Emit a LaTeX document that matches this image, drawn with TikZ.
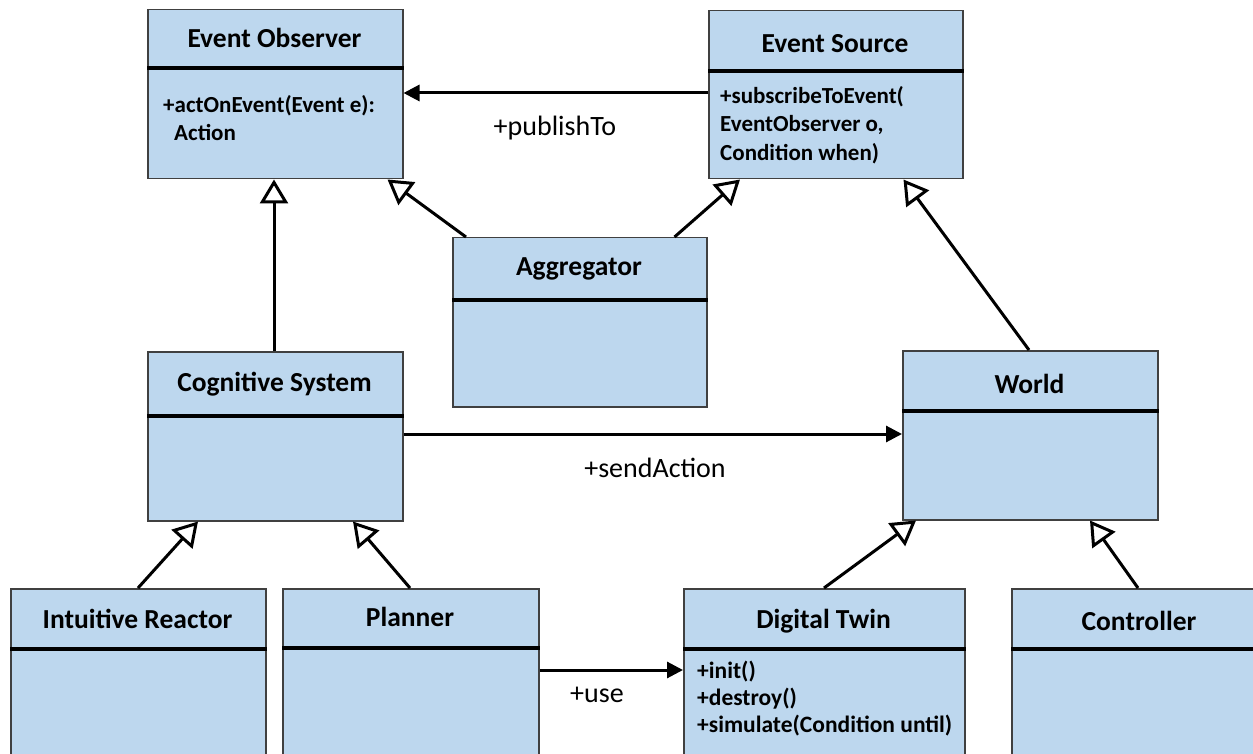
\documentclass[tikz,border=0pt]{standalone}
\usepackage{fontspec}
\setmainfont{Carlito}
\usetikzlibrary{arrows.meta,calc}
\definecolor{boxfill}{HTML}{BDD7EE}
\definecolor{boxline}{HTML}{404040}
\tikzset{
  classbox/.style={draw=boxline, fill=boxfill, line width=1.5pt, rectangle, inner sep=0pt, anchor=north west},
  ctitle/.style={font=\fontsize{27.5}{30}\selectfont\bfseries, inner sep=0pt},
  methods/.style={font=\fontsize{23}{28.5}\selectfont\bfseries, inner sep=0pt, anchor=west, align=left},
  divider/.style={draw=black, line width=3.5pt},
  lbl/.style={font=\fontsize{28}{30}\selectfont, inner sep=0pt},
  gen/.style={draw=black, line width=3pt, -{Triangle[open, length=24pt, width=28pt, line width=3pt]}},
  assoc/.style={draw=black, line width=3pt, -{Triangle[length=16pt, width=16pt]}}
}
\begin{document}
\begin{tikzpicture}[x=1pt,y=-1pt]
\useasboundingbox (0,0) rectangle (1253,754);
\clip (0,0) rectangle (1253,754);

% Event Observer
\node[classbox, minimum width=255pt, minimum height=169pt] (eo) at (147,9) {};
\draw[divider] ([yshift=-59pt]eo.north west) -- ([yshift=-59pt]eo.north east);
\node[ctitle] (eot) at (274.5,38) {Event Observer};
\node[methods] (eom) at (163,118) {+actOnEvent(Event e):\\\hspace*{11pt}Action};

% Event Source
\node[classbox, minimum width=254pt, minimum height=168pt] (es) at (708,10) {};
\draw[divider] ([yshift=-61pt]es.north west) -- ([yshift=-61pt]es.north east);
\node[ctitle] (est) at (835,44) {Event Source};
\node[methods] (esm) at (720,125) {+subscribeToEvent(\\EventObserver o,\\Condition when)};

% Aggregator
\node[classbox, minimum width=254pt, minimum height=169pt] (agg) at (452,237) {};
\draw[divider] ([yshift=-63pt]agg.north west) -- ([yshift=-63pt]agg.north east);
\node[ctitle] (aggt) at (579,269) {Aggregator};

% Cognitive System
\node[classbox, minimum width=255pt, minimum height=169pt] (cog) at (147,351) {};
\draw[divider] ([yshift=-65pt]cog.north west) -- ([yshift=-65pt]cog.north east);
\node[ctitle] (cogt) at (274.5,384) {Cognitive System};

% World
\node[classbox, minimum width=255pt, minimum height=169pt] (world) at (902,350) {};
\draw[divider] ([yshift=-61pt]world.north west) -- ([yshift=-61pt]world.north east);
\node[ctitle] (worldt) at (1029.5,384) {World};

% Intuitive Reactor
\node[classbox, minimum width=255pt, minimum height=220pt] (ir) at (10,588) {};
\draw[divider] ([yshift=-61pt]ir.north west) -- ([yshift=-61pt]ir.north east);
\node[ctitle] (irt) at (137.5,619) {Intuitive Reactor};

% Planner
\node[classbox, minimum width=256pt, minimum height=220pt] (pl) at (282,588) {};
\draw[divider] ([yshift=-60pt]pl.north west) -- ([yshift=-60pt]pl.north east);
\node[ctitle] (plt) at (410,617) {Planner};

% Digital Twin
\node[classbox, minimum width=281pt, minimum height=220pt] (dt) at (683,588) {};
\draw[divider] ([yshift=-61pt]dt.north west) -- ([yshift=-61pt]dt.north east);
\node[ctitle] (dtt) at (823.5,621) {Digital Twin};
\node[methods, font=\fontsize{23.5}{27}\selectfont\bfseries] (dtm) at (697,699) {+init()\\+destroy()\\+simulate(Condition until)};

% Controller
\node[classbox, minimum width=257pt, minimum height=220pt] (ctrl) at (1011,588) {};
\draw[divider] ([yshift=-61pt]ctrl.north west) -- ([yshift=-61pt]ctrl.north east);
\node[ctitle] (ctrlt) at (1139,621) {Controller};

% associations
\draw[assoc] ([yshift=-83pt]es.north west) -- ([yshift=-84pt]eo.north east);
\node[lbl] (lpub) at (555,128) {+publishTo};
\draw[assoc] ([yshift=-83pt]cog.north east) -- ([yshift=-84pt]world.north west);
\node[lbl] (lsend) at (655,468) {+sendAction};
\draw[assoc] ([yshift=-82pt]pl.north east) -- ([yshift=-82pt]dt.north west);
\node[lbl] (luse) at (597,695) {+use};

% generalizations
\draw[gen] ([xshift=127pt]cog.north west) -- ([xshift=127pt]eo.south west);
\draw[gen] ([xshift=14pt]agg.north west) -- ([xshift=-16pt]eo.south east);
\draw[gen] ([xshift=-33pt]agg.north east) -- ([xshift=32pt]es.south west);
\draw[gen] ([xshift=127pt]world.north west) -- ([xshift=-60pt]es.south east);
\draw[gen] ([xshift=128pt]ir.north west) -- ([xshift=51pt]cog.south west);
\draw[gen] ([xshift=128pt]pl.north west) -- ([xshift=206pt]cog.south west);
\draw[gen] ([xshift=141pt]dt.north west) -- ([xshift=14pt]world.south west);
\draw[gen] ([xshift=127pt]ctrl.north west) -- ([xshift=188pt]world.south west);
\end{tikzpicture}
\end{document}
